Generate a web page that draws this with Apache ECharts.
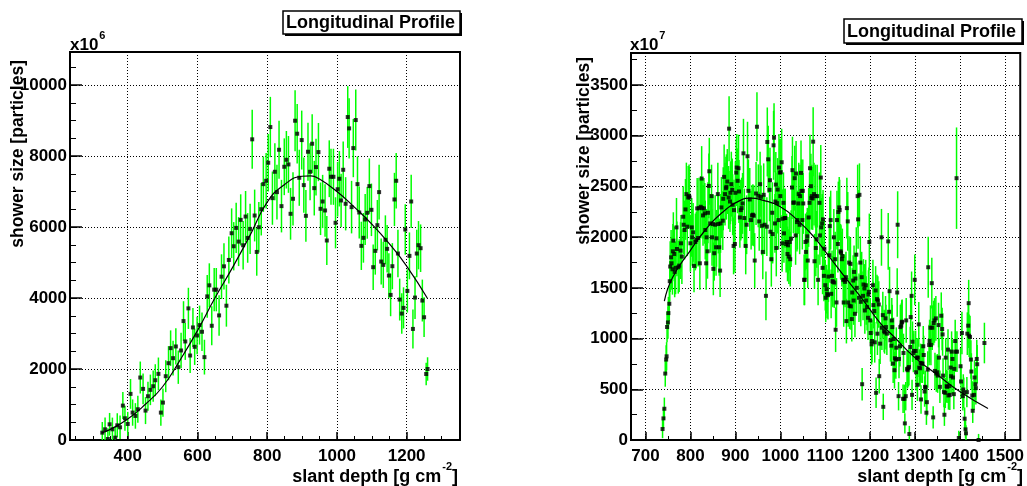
<!DOCTYPE html>
<html>
<head>
<meta charset="utf-8">
<title>Longitudinal Profile</title>
<script src="https://cdn.jsdelivr.net/npm/echarts@6/dist/echarts.min.js"></script>
<style>
    html, body { margin: 0; padding: 0; background: #fff; }
    #chart { width: 1027px; height: 486px; }
</style>
</head>
<body>
<div id="chart"></div>
<script>
// left shower, values in units of 1e6 particles
// each entry: [slant depth, shower size, error]
var leftProfile = [
    [327,207,300],[335,301,330],[343,28,300],[348,442,320],[356,301,330],[364,66,300],
    [370,414,340],[378,358,330],[386,969,380],[392,612,350],[400,452,340],[408,1299,420],
    [414,772,370],[422,678,360],[429,866,380],[436,1760,450],[444,1440,430],[451,828,380],
    [458,1233,410],[465,1412,430],[473,1515,440],[479,1684,450],[488,1863,460],[495,772,370],
    [501,1054,400],[509,1797,450],[517,2164,480],[523,2588,500],[530,2305,490],[538,2635,510],
    [545,2051,470],[553,2522,500],[560,3350,560],[565,2776,520],[574,3708,580],[579,2380,490],
    [587,3171,550],[592,2625,510],[599,2945,530],[606,3237,550],[613,3049,540],[620,2334,490],
    [628,4046,600],[634,4357,620],[641,3218,550],[648,4235,610],[654,4235,610],[662,3510,570],
    [669,4601,630],[676,4893,650],[683,3783,590],[690,5072,660],[698,5825,700],[704,5458,680],
    [711,5975,710],[718,5589,690],[724,6201,720],[731,5486,680],[738,6295,720],[744,5693,700],
    [751,5947,710],[757,8470,830],[764,6324,730],[770,5298,670],[776,5994,710],[783,6502,740],
    [789,7208,780],[797,7302,780],[803,7810,810],[809,8816,850],[815,6813,750],[822,7556,800],
    [828,6983,770],[834,8176,820],[841,6588,740],[849,7697,800],[855,7894,810],[861,7763,800],
    [867,6372,730],[874,6795,750],[880,8994,860],[886,8628,840],[892,7387,790],[899,8449,830],
    [905,7180,780],[911,6315,730],[917,8120,820],[923,7556,800],[929,8346,830],[935,7095,770],
    [940,7688,800],[947,8111,820],[953,6513,740],[959,6719,750],[966,6466,740],[971,5620,690],
    [978,7641,800],[983,7415,790],[990,7415,790],[996,6118,720],[1002,7064,770],[1007,7359,780],
    [1012,6748,750],[1018,7612,800],[1025,6654,750],[1031,9098,870],[1035,8778,850],[1042,6560,740],
    [1047,8223,820],[1054,9013,860],[1059,7208,780],[1064,6409,730],[1070,5469,680],[1076,5695,700],
    [1081,6212,720],[1087,6400,730],[1093,7152,780],[1099,6484,740],[1104,4868,640],[1110,5328,670],
    [1116,6052,710],[1121,6983,770],[1127,5027,650],[1133,4933,650],[1139,5638,690],[1144,5385,670],
    [1149,4633,630],[1154,4087,600],[1159,4896,650],[1165,6776,750],[1170,7302,780],[1175,5253,670],
    [1180,3956,590],[1186,3561,570],[1191,3721,580],[1196,5930,710],[1202,4200,610],[1208,5187,660],
    [1213,6719,750],[1218,3129,550],[1224,4012,600],[1229,5253,670],[1234,5488,680],[1240,5403,670],
    [1245,3928,590],[1250,3458,560],[1256,1859,320],[1260,2000,330]
];
// fitted profile
var leftFit = [
    [325,200],[350,300],[400,590],[450,1000],[500,1500],[550,2250],[600,3080],[650,4000],
    [700,4850],[750,5750],[800,6700],[850,7200],[900,7430],[925,7440],[950,7350],[1000,7000],
    [1050,6560],[1100,6080],[1150,5530],[1200,4900],[1259,4000]
];

// right shower, values in units of 1e7 particles
var rightProfile = [
    [738,108,90],[740,213,100],[742,308,110],[744,655,130],[746,793,140],[747,825,140],
    [748,1114,150],[750,1159,160],[751,1251,160],[753,1343,170],[754,1565,200],[755,1710,250],
    [757,1801,270],[758,1742,260],[760,1683,250],[761,1860,270],[762,1965,280],[764,1834,270],
    [765,1657,250],[767,1697,260],[769,2096,290],[770,1883,270],[773,1703,260],[775,1719,260],
    [778,1867,280],[779,1939,280],[781,1808,270],[784,2201,300],[785,2122,290],[787,2070,290],
    [789,2273,300],[791,2424,310],[793,2103,290],[795,2391,310],[797,2407,310],[798,2391,300],
    [800,1939,280],[803,2096,290],[804,1998,280],[806,2047,290],[808,1716,260],[811,1952,280],
    [813,1972,280],[815,2283,300],[817,1991,280],[819,2286,300],[821,1742,260],[823,2299,300],
    [825,2577,320],[826,2286,300],[828,2214,300],[830,2283,300],[832,2234,300],[833,2070,290],
    [835,1742,260],[836,1998,280],[838,1860,270],[839,2240,300],[841,2505,320],[842,2649,330],
    [844,2135,290],[847,2404,310],[848,1998,280],[850,2129,290],[851,1687,260],[853,1841,270],
    [855,2122,290],[857,1900,280],[858,1988,280],[861,2424,310],[862,2129,290],[864,1900,280],
    [866,1670,260],[867,2135,290],[869,2293,300],[872,2162,290],[873,2378,310],[875,2594,320],
    [877,2424,310],[879,2482,310],[880,2496,320],[882,2548,320],[885,2391,310],[886,3069,320],
    [888,2351,300],[889,2437,310],[891,2522,320],[893,2466,310],[894,2319,300],[896,1913,280],
    [897,2266,300],[899,1932,280],[900,2437,310],[902,2636,330],[903,2686,330],[905,2555,320],
    [907,2679,330],[908,2450,310],[910,2194,300],[912,2266,300],[914,2286,300],[916,2332,300],
    [918,2826,340],[920,2188,290],[923,1913,280],[925,2122,290],[927,2797,340],[929,2456,310],
    [932,2371,310],[935,2168,290],[937,2214,300],[939,2221,300],[941,2211,300],[943,1769,270],
    [946,2430,310],[948,3088,340],[951,2407,310],[953,2155,290],[955,2522,320],[957,2397,310],
    [959,2112,290],[961,1854,270],[963,2417,310],[965,2122,290],[968,1421,240],[970,2103,290],
    [971,2938,340],[973,2767,330],[976,2466,310],[977,2561,320],[978,2053,290],[980,1782,270],
    [982,2240,300],[983,2030,290],[985,2905,340],[986,2980,340],[988,2135,290],[989,2351,300],
    [990,2518,320],[991,1893,280],[993,2335,300],[994,2469,310],[996,2168,290],[997,2686,330],
    [999,2636,330],[1000,2404,310],[1001,2640,330],[1003,2738,330],[1004,1939,280],[1005,2181,290],
    [1007,2338,300],[1008,2037,290],[1010,2188,290],[1011,2188,290],[1013,1932,280],[1014,1952,280],
    [1016,1834,270],[1017,1919,280],[1019,1808,270],[1021,1952,280],[1022,1782,270],[1024,1985,280],
    [1026,2489,310],[1027,2660,330],[1029,2338,300],[1030,2342,300],[1032,2581,320],[1034,2017,290],
    [1035,2627,320],[1037,2148,290],[1038,2168,290],[1040,2332,300],[1041,2424,310],[1043,2122,290],
    [1044,2404,310],[1046,2633,320],[1047,2456,310],[1049,2168,290],[1050,2456,310],[1051,2332,300],
    [1053,1579,250],[1054,1579,250],[1056,1952,280],[1057,1854,270],[1059,1965,280],[1060,2008,280],
    [1061,1769,270],[1063,2194,290],[1065,2338,300],[1066,2679,330],[1068,2502,320],[1069,2384,310],
    [1070,2404,310],[1072,2381,310],[1073,2941,340],[1075,2424,310],[1076,1762,270],[1078,2404,310],
    [1079,1893,280],[1081,1978,280],[1082,2404,310],[1084,1579,250],[1087,2338,300],[1088,2017,290],
    [1090,2587,320],[1091,2096,290],[1093,2135,290],[1094,1697,260],[1095,2175,290],[1097,1618,250],
    [1098,1886,280],[1100,1526,250],[1101,1402,240],[1103,1487,240],[1104,1441,240],[1106,1428,240],
    [1107,1611,250],[1109,1821,270],[1110,2109,290],[1112,2168,290],[1113,1441,240],[1115,1618,250],
    [1116,1566,250],[1117,1559,250],[1119,1998,280],[1120,1552,250],[1122,1782,270],[1123,1087,220],
    [1125,1356,240],[1126,2168,290],[1128,1932,280],[1129,2247,300],[1131,2293,300],[1132,2266,300],
    [1134,1860,270],[1135,1847,270],[1137,1782,270],[1138,1814,270],[1140,1579,250],[1141,1356,240],
    [1143,1579,250],[1144,1559,250],[1146,1605,250],[1147,1172,220],[1148,2286,300],[1150,2155,290],
    [1151,1356,240],[1153,1749,260],[1154,1323,230],[1156,1736,260],[1157,1317,230],[1159,1192,220],
    [1160,1454,240],[1162,1572,250],[1163,1375,240],[1164,1657,260],[1166,1244,230],[1167,1592,250],
    [1169,1827,270],[1170,1500,250],[1172,2404,310],[1173,2175,290],[1175,1402,240],[1176,2417,310],
    [1178,1749,260],[1179,1362,240],[1181,1605,250],[1182,550,160],[1184,1421,240],[1185,1533,250],
    [1187,1494,240],[1188,1277,230],[1190,1526,250],[1191,1375,240],[1193,1310,230],[1195,1205,220],
    [1196,1434,240],[1197,1461,240],[1198,1952,280],[1200,1179,220],[1201,1055,210],[1203,943,200],
    [1204,976,210],[1206,1526,250],[1207,1330,230],[1209,1271,230],[1210,963,200],[1212,1474,240],
    [1213,465,150],[1215,1389,240],[1216,1048,210],[1217,1375,240],[1219,1336,230],[1220,629,170],
    [1222,950,200],[1225,1998,280],[1226,1107,220],[1228,1231,230],[1229,327,130],[1231,1074,210],
    [1232,1061,210],[1234,1199,220],[1235,1113,220],[1237,1048,210],[1240,1958,280],[1242,1264,230],
    [1243,1467,240],[1245,983,210],[1247,930,200],[1248,1179,220],[1249,1113,220],[1251,753,190],
    [1252,996,210],[1254,688,180],[1255,806,190],[1257,793,190],[1258,910,200],[1260,1454,240],
    [1261,2122,330],[1263,432,140],[1264,799,190],[1266,924,200],[1267,1113,220],[1269,1127,220],
    [1270,1159,220],[1271,1166,220],[1273,406,140],[1274,858,190],[1276,406,140],[1277,164,100],
    [1279,432,140],[1280,1179,220],[1282,701,180],[1283,688,180],[1285,707,180],[1286,720,180],
    [1287,59,80],[1289,917,200],[1290,1212,220],[1292,1421,240],[1293,445,150],[1294,969,200],
    [1296,858,190],[1297,878,200],[1299,1579,250],[1301,878,200],[1302,668,180],[1304,812,190],
    [1305,544,160],[1306,812,190],[1308,1140,220],[1309,714,180],[1311,707,180],[1312,760,190],
    [1313,400,140],[1315,753,190],[1316,753,190],[1318,924,200],[1319,838,190],[1321,478,150],
    [1322,524,160],[1323,517,160],[1325,269,120],[1326,373,140],[1328,694,180],[1329,1703,300],
    [1331,937,200],[1332,976,210],[1334,1107,220],[1335,937,200],[1337,1546,250],[1338,1107,220],
    [1340,223,110],[1341,1153,220],[1343,1179,220],[1344,681,180],[1346,1199,220],[1347,655,180],
    [1349,668,180],[1350,635,170],[1352,1133,220],[1353,812,190],[1355,524,160],[1358,1225,230],
    [1360,1094,210],[1361,1041,210],[1362,635,170],[1364,472,150],[1365,249,110],[1367,465,150],
    [1368,812,190],[1370,531,160],[1371,524,160],[1373,891,200],[1374,439,140],[1376,531,160],
    [1377,445,150],[1379,714,180],[1380,629,170],[1381,871,200],[1383,799,190],[1384,616,170],
    [1386,452,150],[1387,701,180],[1389,976,210],[1390,871,200],[1392,2581,500],[1393,871,200],
    [1397,20,70],[1401,727,180],[1402,577,170],[1404,1055,210],[1406,432,140],[1407,498,150],
    [1408,465,150],[1410,210,110],[1412,105,90],[1413,66,80],[1415,472,150],[1416,1048,210],
    [1418,1127,220],[1419,1349,230],[1420,1028,210],[1422,1015,210],[1424,793,190],[1425,675,180],
    [1427,439,140],[1428,288,120],[1431,445,150],[1432,616,170],[1434,550,160],[1435,511,160],
    [1437,799,190],[1438,747,190],[1441,0,60],[1454,956,200]
];
var rightFit = [
    [742,1370],[760,1600],[800,1870],[835,2080],[870,2240],[910,2360],[935,2385],[960,2365],
    [1000,2300],[1040,2160],[1075,2000],[1110,1800],[1150,1570],[1185,1375],[1220,1165],
    [1250,1030],[1300,810],[1350,640],[1400,475],[1462,310]
];

// tick values
var leftXMajor = [400, 600, 800, 1000, 1200];
var leftXMinor = [250,300,350,400,450,500,550,600,650,700,750,800,850,900,950,1000,1050,1100,1150,1200,1250,1300,1350];
var leftYMajor = [0, 2000, 4000, 6000, 8000, 10000];
var leftYMinor = [0,500,1000,1500,2000,2500,3000,3500,4000,4500,5000,5500,6000,6500,7000,7500,8000,8500,9000,9500,10000,10500];
var rightXMajor = [700, 800, 900, 1000, 1100, 1200, 1300, 1400, 1500];
var rightXMinor = [700,750,800,850,900,950,1000,1050,1100,1150,1200,1250,1300,1350,1400,1450,1500];
var rightYMajor = [0, 500, 1000, 1500, 2000, 2500, 3000, 3500];
var rightYMinor = [0,250,500,750,1000,1250,1500,1750,2000,2250,2500,2750,3000,3250,3500,3750];

var FONT = '"Liberation Sans", Arial, Helvetica, sans-serif';
var gridLine = { color: '#000', width: 1, type: [1, 2] };

var measureCtx = document.createElement('canvas').getContext('2d');
function textWidth(str, size) {
    measureCtx.font = 'bold ' + size + 'px ' + FONT;
    return measureCtx.measureText(str).width;
}

function makeXAxes(grid, min, max, major, minor) {
    return [{
        type: 'value', gridIndex: grid, position: 'bottom', min: min, max: max,
        axisLine: { show: true, lineStyle: { color: '#000', width: 2 } },
        axisTick: { show: true, inside: true, length: 8, customValues: major, lineStyle: { color: '#000', width: 1.5 } },
        axisLabel: {
            show: true, customValues: major, margin: 8, color: '#000',
            fontFamily: FONT, fontWeight: 'bold', fontSize: 17,
            formatter: function (v) { return String(v); }
        },
        splitLine: { show: true, lineStyle: gridLine }
    }, {
        type: 'value', gridIndex: grid, position: 'bottom', min: min, max: max,
        axisLine: { show: false },
        axisTick: { show: true, inside: true, length: 4, customValues: minor, lineStyle: { color: '#000', width: 1 } },
        axisLabel: { show: false },
        splitLine: { show: false }
    }];
}

function makeYAxes(grid, max, major, minor) {
    return [{
        type: 'value', gridIndex: grid, position: 'left', min: 0, max: max,
        axisLine: { show: true, lineStyle: { color: '#000', width: 2 } },
        axisTick: { show: true, inside: true, length: 12, customValues: major, lineStyle: { color: '#000', width: 1.5 } },
        axisLabel: {
            show: true, customValues: major, margin: 3, color: '#000',
            fontFamily: FONT, fontWeight: 'bold', fontSize: 17,
            formatter: function (v) { return String(v); }
        },
        splitLine: { show: true, lineStyle: gridLine }
    }, {
        type: 'value', gridIndex: grid, position: 'left', min: 0, max: max,
        axisLine: { show: false },
        axisTick: { show: true, inside: true, length: 6, customValues: minor, lineStyle: { color: '#000', width: 1 } },
        axisLabel: { show: false },
        splitLine: { show: false }
    }];
}

function makeSeries(axisIdx, profile, fit) {
    return [{
        // green vertical error bars
        type: 'custom',
        xAxisIndex: axisIdx, yAxisIndex: axisIdx,
        clip: true,
        silent: true,
        data: profile,
        encode: { x: 0, y: 1 },
        renderItem: function (params, api) {
            var x = api.value(0), y = api.value(1), e = api.value(2);
            var lo = api.coord([x, y - e]);
            var hi = api.coord([x, y + e]);
            return {
                type: 'line',
                shape: { x1: lo[0], y1: lo[1], x2: hi[0], y2: hi[1] },
                style: { stroke: '#00ff00', lineWidth: 1.5 }
            };
        },
        z: 2
    }, {
        type: 'scatter',
        xAxisIndex: axisIdx, yAxisIndex: axisIdx,
        silent: true,
        symbol: 'rect',
        symbolSize: 4,
        itemStyle: { color: '#000' },
        data: profile.map(function (p) { return [p[0], p[1]]; }),
        z: 3
    }, {
        type: 'line',
        xAxisIndex: axisIdx, yAxisIndex: axisIdx,
        silent: true,
        smooth: true,
        showSymbol: false,
        lineStyle: { color: '#000', width: 1.2 },
        data: fit,
        z: 4
    }];
}

// title pave with a drop shadow, text starts near the left edge
function titleBox(x, y, w, h) {
    return [{
        type: 'rect', shape: { x: x + 2, y: y + 2, width: w, height: h },
        style: { fill: '#000' }
    }, {
        type: 'rect', shape: { x: x, y: y, width: w, height: h },
        style: { fill: '#fff', stroke: '#000', lineWidth: 1.5 }
    }, {
        type: 'text', x: x + 3, y: y + h / 2 + 1,
        style: {
            text: 'Longitudinal Profile', fill: '#000', font: 'bold 18px ' + FONT,
            align: 'left', verticalAlign: 'middle', textAlign: 'left', textVerticalAlign: 'middle'
        }
    }];
}

function xTitle(right, y) {
    var wBr = textWidth(']', 18);
    var wSup = textWidth('-2', 11);
    var base = { fill: '#000', verticalAlign: 'middle', textVerticalAlign: 'middle', align: 'right', textAlign: 'right' };
    return [
        { type: 'text', x: right, y: y, style: Object.assign({ text: ']', font: 'bold 18px ' + FONT }, base) },
        { type: 'text', x: right - wBr, y: y - 10, style: Object.assign({ text: '-2', font: 'bold 11px ' + FONT }, base) },
        { type: 'text', x: right - wBr - wSup - 1, y: y, style: Object.assign({ text: 'slant depth [g cm', font: 'bold 18px ' + FONT }, base) }
    ];
}

function yTitle(x, top) {
    return {
        type: 'text', x: x, y: top, rotation: Math.PI / 2,
        style: {
            text: 'shower size [particles]', fill: '#000', font: 'bold 17.5px ' + FONT,
            align: 'right', verticalAlign: 'middle', textAlign: 'right', textVerticalAlign: 'middle'
        }
    };
}

function exponent(x, power) {
    return [{
        type: 'text', x: x, y: 45,
        style: { text: 'x10', fill: '#000', font: 'bold 17px ' + FONT, align: 'left', verticalAlign: 'middle', textAlign: 'left', textVerticalAlign: 'middle' }
    }, {
        type: 'text', x: x + textWidth('x10', 17) + 1, y: 36,
        style: { text: power, fill: '#000', font: 'bold 11px ' + FONT, align: 'left', verticalAlign: 'middle', textAlign: 'left', textVerticalAlign: 'middle' }
    }];
}

var chart = echarts.init(document.getElementById('chart'), null, { renderer: 'canvas' });

chart.setOption({
    animation: false,
    backgroundColor: '#fff',
    grid: [
        { left: 70, right: 567, top: 52, bottom: 46, show: true, borderColor: '#000', borderWidth: 2, backgroundColor: '#fff' },
        { left: 631, right: 3, top: 53, bottom: 46, show: true, borderColor: '#000', borderWidth: 2, backgroundColor: '#fff' }
    ],
    xAxis: makeXAxes(0, 234.4, 1353, leftXMajor, leftXMinor)
        .concat(makeXAxes(1, 667.8, 1533.7, rightXMajor, rightXMinor)),
    yAxis: makeYAxes(0, 10930, leftYMajor, leftYMinor)
        .concat(makeYAxes(1, 3815, rightYMajor, rightYMinor)),
    series: makeSeries(0, leftProfile, leftFit).concat(makeSeries(2, rightProfile, rightFit)),
    graphic: [].concat(
        titleBox(283, 11, 177, 23),
        titleBox(844, 19, 178, 24),
        xTitle(458, 477),
        xTitle(1023, 477),
        [yTitle(18, 60), yTitle(584, 57)],
        exponent(70, '6'),
        exponent(630, '7')
    )
});
</script>
</body>
</html>
